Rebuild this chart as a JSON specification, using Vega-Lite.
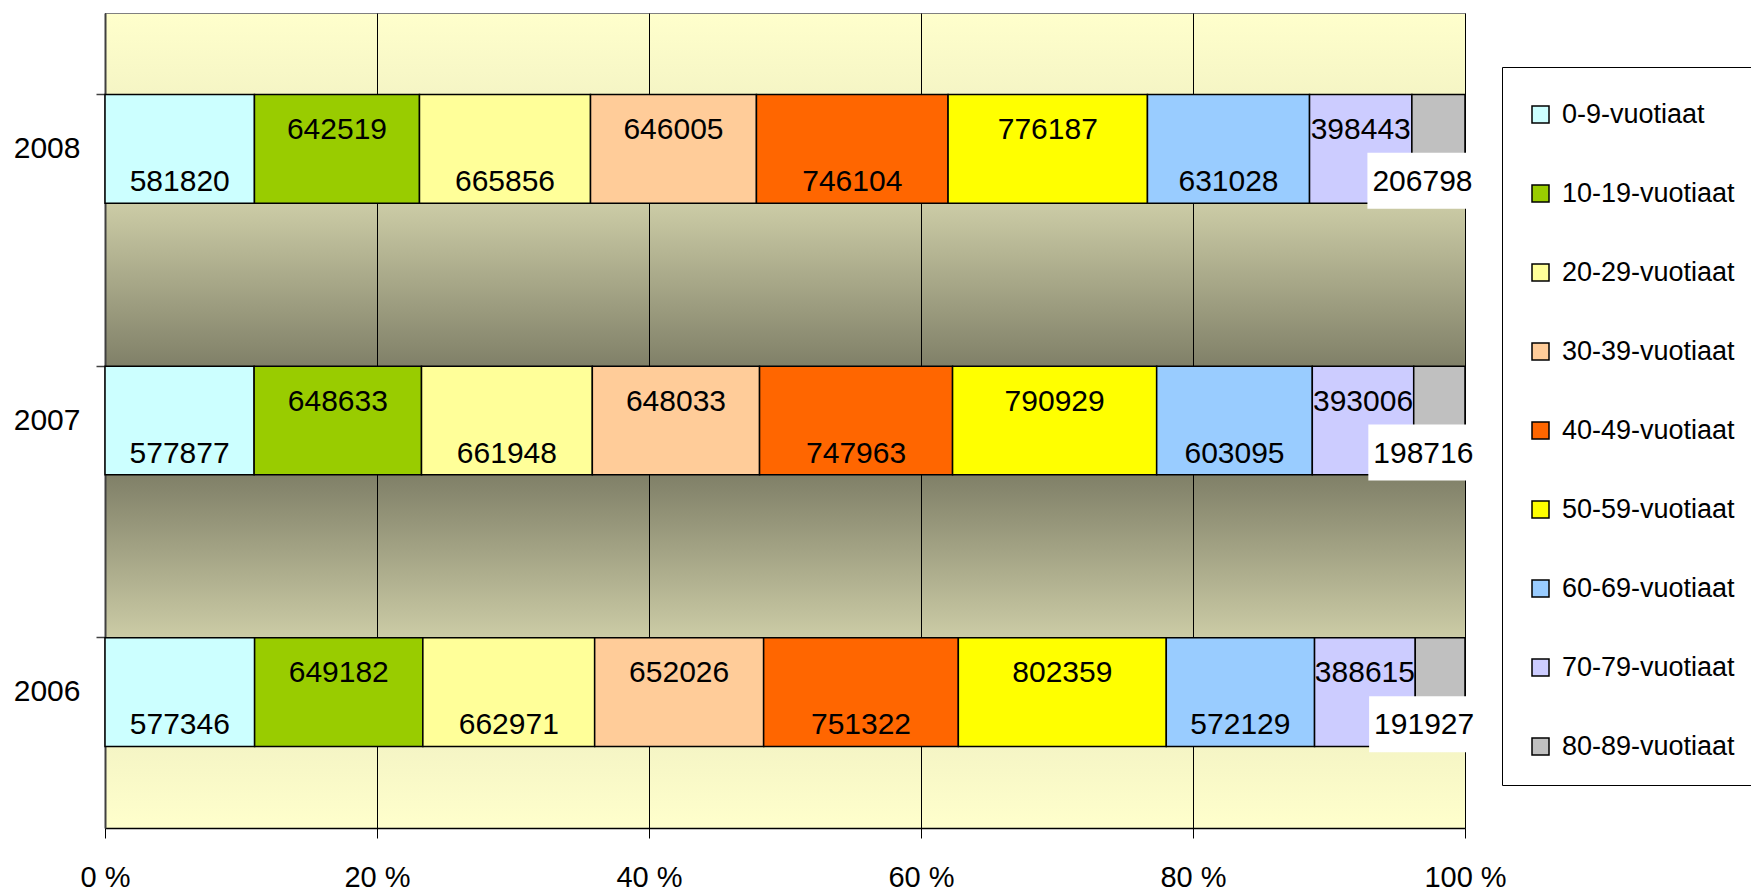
{
  "$schema": "https://vega.github.io/schema/vega-lite/v6.json",
  "width": 1360,
  "height": 815,
  "autosize": {"type": "none"},
  "padding": {"left": 105, "top": 13, "right": 286, "bottom": 65},
  "background": "white",
  "view": {
    "fill": {
      "gradient": "linear", "x1": 0, "y1": 0, "x2": 0, "y2": 1,
      "stops": [
        {"offset": 0, "color": "#FFFFCC"},
        {"offset": 0.1, "color": "#F5F5C5"},
        {"offset": 0.233, "color": "#CCCCA6"},
        {"offset": 0.433, "color": "#808068"},
        {"offset": 0.567, "color": "#808068"},
        {"offset": 0.767, "color": "#CCCCA6"},
        {"offset": 0.9, "color": "#F5F5C5"},
        {"offset": 1, "color": "#FFFFCC"}
      ]
    },
    "stroke": "#808080",
    "strokeWidth": 1
  },
  "config": {
    "font": "Liberation Sans",
    "axisX": {
      "title": null, "tickCount": 10,
      "labelExpr": "round(datum.value * 100) + ' %'",
      "grid": true, "gridColor": "black", "gridWidth": 1, "gridOpacity": 1,
      "tickSize": 10, "tickColor": "black", "domainColor": "black", "domainWidth": 1.5,
      "labelFontSize": 29, "labelColor": "black", "labelPadding": 25, "labelFlush": false,
      "labelOverlap": false
    }
  },
  "data": {
    "values": [
      {"year": "2008", "age": "0-9-vuotiaat", "value": 581820},
      {"year": "2008", "age": "10-19-vuotiaat", "value": 642519},
      {"year": "2008", "age": "20-29-vuotiaat", "value": 665856},
      {"year": "2008", "age": "30-39-vuotiaat", "value": 646005},
      {"year": "2008", "age": "40-49-vuotiaat", "value": 746104},
      {"year": "2008", "age": "50-59-vuotiaat", "value": 776187},
      {"year": "2008", "age": "60-69-vuotiaat", "value": 631028},
      {"year": "2008", "age": "70-79-vuotiaat", "value": 398443},
      {"year": "2008", "age": "80-89-vuotiaat", "value": 206798},
      {"year": "2007", "age": "0-9-vuotiaat", "value": 577877},
      {"year": "2007", "age": "10-19-vuotiaat", "value": 648633},
      {"year": "2007", "age": "20-29-vuotiaat", "value": 661948},
      {"year": "2007", "age": "30-39-vuotiaat", "value": 648033},
      {"year": "2007", "age": "40-49-vuotiaat", "value": 747963},
      {"year": "2007", "age": "50-59-vuotiaat", "value": 790929},
      {"year": "2007", "age": "60-69-vuotiaat", "value": 603095},
      {"year": "2007", "age": "70-79-vuotiaat", "value": 393006},
      {"year": "2007", "age": "80-89-vuotiaat", "value": 198716},
      {"year": "2006", "age": "0-9-vuotiaat", "value": 577346},
      {"year": "2006", "age": "10-19-vuotiaat", "value": 649182},
      {"year": "2006", "age": "20-29-vuotiaat", "value": 662971},
      {"year": "2006", "age": "30-39-vuotiaat", "value": 652026},
      {"year": "2006", "age": "40-49-vuotiaat", "value": 751322},
      {"year": "2006", "age": "50-59-vuotiaat", "value": 802359},
      {"year": "2006", "age": "60-69-vuotiaat", "value": 572129},
      {"year": "2006", "age": "70-79-vuotiaat", "value": 388615},
      {"year": "2006", "age": "80-89-vuotiaat", "value": 191927}
    ]
  },
  "encoding": {
    "y": {
      "field": "year", "type": "nominal", "sort": "descending",
      "scale": {"paddingInner": 0.6, "paddingOuter": 0.3},
      "axis": {
        "title": null, "bandPosition": 0, "tickSize": 9, "tickColor": "#404040",
        "tickWidth": 1.5, "domainColor": "#404040", "domainWidth": 2,
        "labelFontSize": 30, "labelColor": "black", "labelPadding": 16, "grid": false
      }
    }
  },
  "layer": [
    {
      "mark": {"type": "bar", "stroke": "black", "strokeWidth": 1.5},
      "encoding": {
        "x": {
          "field": "value", "type": "quantitative", "stack": "normalize",
          "scale": {"domain": [0, 1], "nice": false},
          "axis": {"title": null, "values": [0, 0.2, 0.4, 0.6, 0.8, 1]}
        },
        "color": {
          "field": "age", "type": "nominal",
          "scale": {
            "domain": ["0-9-vuotiaat", "10-19-vuotiaat", "20-29-vuotiaat", "30-39-vuotiaat", "40-49-vuotiaat", "50-59-vuotiaat", "60-69-vuotiaat", "70-79-vuotiaat", "80-89-vuotiaat"],
            "range": ["#CCFFFF", "#99CC00", "#FFFF99", "#FFCC99", "#FF6600", "#FFFF00", "#99CCFF", "#CCCCFF", "#C0C0C0"]
          },
          "legend": {
            "title": " ", "titleFontSize": 8, "titlePadding": 1,
            "orient": "none", "legendX": 1397, "legendY": 54,
            "padding": 25, "fillColor": "white", "strokeColor": "black",
            "symbolType": "square", "symbolSize": 289, "symbolStrokeColor": "black",
            "symbolStrokeWidth": 1.5, "symbolOpacity": 1,
            "labelFontSize": 27, "labelColor": "black", "labelOffset": 8,
            "rowPadding": 51, "labelLimit": 400
          }
        },
        "order": {"field": "age", "type": "ordinal", "sort": "ascending"}
      }
    },
    {
      "mark": {
        "type": "point", "filled": true, "fill": "white", "strokeWidth": 0,
        "size": 11236,
        "shape": "M-1.34,0.075H0.66V1.132H-1.34Z",
        "opacity": {"expr": "datum.age === '80-89-vuotiaat' ? 1 : 0"}
      },
      "encoding": {
        "x": {"field": "value", "type": "quantitative", "stack": "normalize", "bandPosition": 0.5, "axis": {"title": null, "values": [0, 0.2, 0.4, 0.6, 0.8, 1]}},
        "detail": {"field": "age", "type": "nominal"},
        "order": {"field": "age", "type": "ordinal", "sort": "ascending"}
      }
    },
    {
      "mark": {
        "type": "text", "fontSize": 30, "color": "black", "baseline": "middle", "align": "center",
        "dx": {"expr": "datum.age === '80-89-vuotiaat' ? -16 : 0"},
        "dy": {"expr": "indexof(['10-19-vuotiaat','30-39-vuotiaat','50-59-vuotiaat','70-79-vuotiaat'], datum.age) >= 0 ? -19 : 33"}
      },
      "encoding": {
        "x": {"field": "value", "type": "quantitative", "stack": "normalize", "bandPosition": 0.5, "axis": {"title": null, "values": [0, 0.2, 0.4, 0.6, 0.8, 1]}},
        "detail": {"field": "age", "type": "nominal"},
        "order": {"field": "age", "type": "ordinal", "sort": "ascending"},
        "text": {"field": "value", "type": "quantitative", "format": "d"}
      }
    }
  ]
}
